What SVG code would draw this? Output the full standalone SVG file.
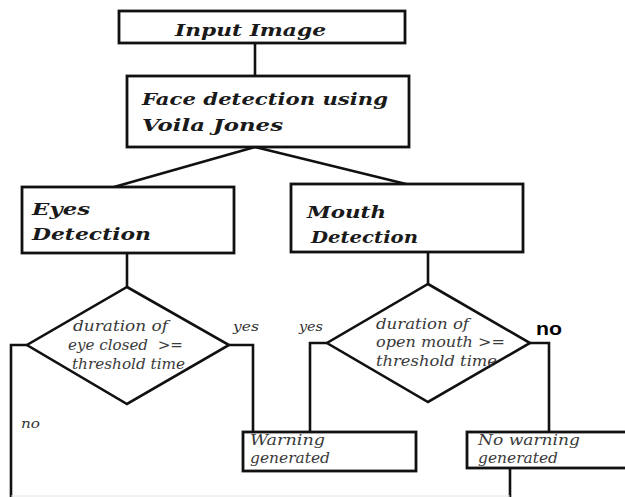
<svg xmlns="http://www.w3.org/2000/svg" width="625" height="497" viewBox="0 0 625 497">
<style>
.box{fill:#fff;stroke:#111;stroke-width:2.8}
.dia{fill:#fff;stroke:#111;stroke-width:2.6}
.ln{fill:none;stroke:#111;stroke-width:2.6}
.t{font-family:"DejaVu Serif","Liberation Serif",serif;font-style:italic;font-weight:bold;fill:#1a1a1a;font-size:17px}
.d{font-family:"DejaVu Serif","Liberation Serif",serif;font-style:italic;fill:#3a3a3a;font-size:14px}
.s{font-family:"DejaVu Serif","Liberation Serif",serif;font-style:italic;fill:#333;font-size:13px}
.b{font-family:"Liberation Sans",Arial,sans-serif;font-weight:bold;fill:#000;font-size:19px}
</style>
<rect width="625" height="497" fill="#fff"/>
<g id="connectors">
<path class="ln" d="M255 43V76"/>
<path class="ln" d="M255 147L114 187"/>
<path class="ln" d="M255 147L406 184"/>
<path class="ln" d="M127 253V287"/>
<path class="ln" d="M428 252V285"/>
<path class="ln" d="M27 345H11V497"/>
<path class="ln" d="M229 345H253V432"/>
<path class="ln" d="M327 343H310V432"/>
<path class="ln" d="M530 343H549V432"/>
<path class="ln" d="M510 468V497"/>
<path d="M11 496H510" stroke="#e4e4e4" stroke-width="1.2" fill="none"/>
<text class="s" x="233" y="331" textLength="26" lengthAdjust="spacingAndGlyphs">yes</text>
<text class="s" x="299" y="331" textLength="24" lengthAdjust="spacingAndGlyphs">yes</text>
<text class="s" x="21" y="428" textLength="19" lengthAdjust="spacingAndGlyphs">no</text>
<text class="b" x="536" y="335" textLength="26" lengthAdjust="spacingAndGlyphs">no</text>
</g>
<g id="input">
<rect class="box" x="119" y="11" width="286" height="32"/>
<text class="t" x="175" y="36" textLength="151" lengthAdjust="spacingAndGlyphs">Input Image</text>
</g>
<g id="face">
<rect class="box" x="127" y="76" width="282" height="71"/>
<text class="t" x="142" y="105" textLength="246" lengthAdjust="spacingAndGlyphs">Face detection using</text>
<text class="t" x="142" y="131" textLength="141" lengthAdjust="spacingAndGlyphs">Voila Jones</text>
</g>
<g id="eyes">
<rect class="box" x="22" y="187" width="212" height="66"/>
<text class="t" x="32" y="215" textLength="58" lengthAdjust="spacingAndGlyphs">Eyes</text>
<text class="t" x="32" y="240" textLength="119" lengthAdjust="spacingAndGlyphs">Detection</text>
</g>
<g id="mouth">
<rect class="box" x="291" y="184" width="232" height="68"/>
<text class="t" x="307" y="218" textLength="79" lengthAdjust="spacingAndGlyphs">Mouth</text>
<text class="t" x="311" y="243" textLength="107" lengthAdjust="spacingAndGlyphs">Detection</text>
</g>
<g id="eye-decision">
<polygon class="dia" points="127,287 229,345 127,404 27,345"/>
<text class="d" x="73" y="331" textLength="95" lengthAdjust="spacingAndGlyphs">duration of</text>
<text class="d" x="68" y="350" textLength="115" lengthAdjust="spacingAndGlyphs" xml:space="preserve">eye closed  &gt;=</text>
<text class="d" x="72" y="369" textLength="113" lengthAdjust="spacingAndGlyphs">threshold time</text>
</g>
<g id="mouth-decision">
<polygon class="dia" points="428,284 530,343 428,402 327,343"/>
<text class="d" x="376" y="329" textLength="93" lengthAdjust="spacingAndGlyphs">duration of</text>
<text class="d" x="376" y="347" textLength="129" lengthAdjust="spacingAndGlyphs">open mouth &gt;=</text>
<text class="d" x="376" y="366" textLength="121" lengthAdjust="spacingAndGlyphs">threshold time</text>
</g>
<g id="warning">
<rect class="box" x="243" y="432" width="173" height="39"/>
<text class="d" x="250" y="445" textLength="75" lengthAdjust="spacingAndGlyphs">Warning</text>
<text class="d" x="250" y="463" textLength="80" lengthAdjust="spacingAndGlyphs">generated</text>
</g>
<g id="no-warning">
<rect class="box" x="467" y="432" width="175" height="36"/>
<text class="d" x="478" y="445" textLength="102" lengthAdjust="spacingAndGlyphs">No warning</text>
<text class="d" x="478" y="463" textLength="80" lengthAdjust="spacingAndGlyphs">generated</text>
</g>
</svg>
